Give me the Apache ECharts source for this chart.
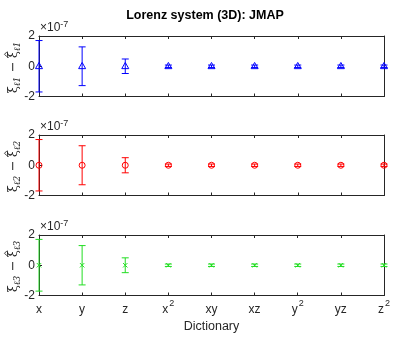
<!DOCTYPE html>
<html><head><meta charset="utf-8">
<script src="https://cdn.jsdelivr.net/npm/echarts@6/dist/echarts.min.js"></script>
<style>html,body{margin:0;padding:0;background:#fff}#c{width:393px;height:338px}</style>
</head><body><div id="c"></div>
<script>
const categories = ['x', 'y', 'z', 'x^2', 'xy', 'xz', 'y^2', 'yz', 'z^2'];
const yTicks = [-2, 0, 2];
const val1 = [0, 0, 0, 0, 0, 0, 0, 0, 0];
const err1 = [1.7, 1.28, 0.48, 0.08, 0.08, 0.08, 0.08, 0.08, 0.08];
const val2 = [0, 0, 0, 0, 0, 0, 0, 0, 0];
const err2 = [1.7, 1.29, 0.5, 0.08, 0.08, 0.08, 0.08, 0.08, 0.08];
const val3 = [0, 0, 0, 0, 0, 0, 0, 0, 0];
const err3 = [1.71, 1.3, 0.49, 0.08, 0.08, 0.08, 0.08, 0.08, 0.08];

const FONT = 'Liberation Sans, Arial, sans-serif';
const SERIF = 'DejaVu Serif, serif';
const AX = '#262626';
const panels = [
  {vals: val1, errs: err1, color: '#0000ff', marker: 'triangle', idx: '1', top: 36},
  {vals: val2, errs: err2, color: '#ff0000', marker: 'circle', idx: '2', top: 135},
  {vals: val3, errs: err3, color: '#22dd22', marker: 'x', idx: '3', top: 235}
];
const H = 60.5, LEFT = 39, RIGHT = 9;

function supFmt(v) {
  const m = /^(.*)\^(.*)$/.exec(v);
  if (m) return '{b|' + m[1] + '}{sup|' + m[2] + '}';
  return '{b|' + v + '}';
}

function yLabel(idx, cy) {
  const t = (txt, x, y, size, italic) => ({
    type: 'text', x: x, y: y,
    style: {text: txt, fontSize: size, fontFamily: SERIF, fontStyle: italic ? 'italic' : 'normal',
      fill: AX, align: 'left', verticalAlign: 'middle'}
  });
  return {
    type: 'group', x: 14, y: cy, rotation: Math.PI / 2,
    children: [
      t('ξ', -27, 0, 13, false),
      t('ℓ' + idx, -20, 4, 9, true),
      t('−', -6, 0, 13, false),
      t('ξ', 8, 0, 13, false),
      {type: 'polyline', shape: {points: [[9.5, -7], [12, -9.5], [14.5, -7]]}, style: {stroke: AX, lineWidth: 0.9, fill: null}},
      t('ℓ' + idx, 15, 4, 9, true)
    ]
  };
}

const grid = [], xAxis = [], yAxis = [], series = [], graphic = [];
panels.forEach((p, k) => {
  grid.push({left: LEFT, right: RIGHT, top: p.top, height: H});
  const last = k === panels.length - 1;
  xAxis.push({
    type: 'category', gridIndex: k, data: categories, boundaryGap: false, position: 'bottom',
    axisLine: {onZero: false, lineStyle: {color: AX, width: 1}},
    axisTick: {inside: true, length: 3, interval: 0, lineStyle: {color: AX}},
    axisLabel: last ? {
      show: true, margin: 4, interval: 0, formatter: supFmt,
      rich: {
        b: {fontSize: 12, fontFamily: FONT, color: AX, verticalAlign: 'bottom', lineHeight: 16},
        sup: {fontSize: 9, fontFamily: FONT, color: AX, verticalAlign: 'top', lineHeight: 16, padding: [0, 0, 8, 1]}
      }
    } : {show: false},
    name: last ? 'Dictionary' : '', nameLocation: 'middle', nameGap: 25,
    nameTextStyle: {fontSize: 12.5, fontFamily: FONT, color: AX}
  });
  xAxis.push({
    type: 'category', gridIndex: k, data: categories, boundaryGap: false, position: 'top',
    axisLine: {onZero: false, lineStyle: {color: AX, width: 1}},
    axisTick: {inside: true, length: 3, interval: 0, lineStyle: {color: AX}},
    axisLabel: {show: false}
  });
  yAxis.push({
    type: 'value', gridIndex: k, min: -2, max: 2, interval: 2, position: 'left',
    axisLine: {show: true, onZero: false, lineStyle: {color: AX, width: 1}},
    axisTick: {show: true, inside: true, length: 3, lineStyle: {color: AX}},
    splitLine: {show: false},
    axisLabel: {margin: 4, fontSize: 12, fontFamily: FONT, color: AX,
      formatter: v => yTicks.indexOf(v) >= 0 ? String(v) : ''}
  });
  yAxis.push({
    type: 'value', gridIndex: k, min: -2, max: 2, interval: 2, position: 'right',
    axisLine: {show: true, onZero: false, lineStyle: {color: AX, width: 1}},
    axisTick: {show: false},
    splitLine: {show: false}, axisLabel: {show: false}
  });
  const data = p.vals.map((v, i) => [i, v, p.errs[i]]);
  series.push({
    type: 'custom', xAxisIndex: 2 * k, yAxisIndex: 2 * k, clip: false, data: data, z: 5,
    renderItem: function (params, api) {
      const i = api.value(0), v = api.value(1), e = api.value(2);
      const c = api.coord([i, v]);
      const hi = api.coord([i, v + e]);
      const lo = api.coord([i, v - e]);
      const cw = 3.5;
      const st = {stroke: p.color, lineWidth: 1, fill: null};
      const ch = [
        {type: 'line', shape: {x1: c[0], y1: hi[1], x2: c[0], y2: lo[1]}, style: st},
        {type: 'line', shape: {x1: c[0] - cw, y1: hi[1], x2: c[0] + cw, y2: hi[1]}, style: st},
        {type: 'line', shape: {x1: c[0] - cw, y1: lo[1], x2: c[0] + cw, y2: lo[1]}, style: st}
      ];
      if (p.marker === 'triangle') {
        ch.push({type: 'polygon', shape: {points: [[c[0], c[1] - 3.8], [c[0] + 3.5, c[1] + 2.4], [c[0] - 3.5, c[1] + 2.4]]}, style: {stroke: p.color, lineWidth: 1, fill: 'none'}});
      } else if (p.marker === 'circle') {
        ch.push({type: 'circle', shape: {cx: c[0], cy: c[1], r: 3}, style: {stroke: p.color, lineWidth: 1, fill: 'none'}});
      } else {
        ch.push({type: 'line', shape: {x1: c[0] - 2.2, y1: c[1] - 2.2, x2: c[0] + 2.2, y2: c[1] + 2.2}, style: st});
        ch.push({type: 'line', shape: {x1: c[0] - 2.2, y1: c[1] + 2.2, x2: c[0] + 2.2, y2: c[1] - 2.2}, style: st});
      }
      return {type: 'group', children: ch};
    }
  });
  graphic.push({
    type: 'text', left: LEFT + 1, top: p.top - 16,
    style: {
      text: '{a|×10}{s|-7}',
      rich: {
        a: {fontSize: 12, fontFamily: FONT, fill: AX, verticalAlign: 'bottom', lineHeight: 14},
        s: {fontSize: 9, fontFamily: FONT, fill: AX, verticalAlign: 'top', lineHeight: 14, padding: [0, 0, 6, 0]}
      }
    }
  });
  graphic.push(yLabel(p.idx, p.top + H / 2));
});

const chart = echarts.init(document.getElementById('c'), null, {renderer: 'canvas'});
chart.setOption({
  animation: false,
  title: {text: 'Lorenz system (3D): JMAP', left: 200, top: 4, textAlign: 'center',
    textStyle: {fontSize: 12.5, fontWeight: 'bold', fontFamily: FONT, color: '#000'}},
  grid: grid, xAxis: xAxis, yAxis: yAxis, series: series, graphic: graphic
});
</script></body></html>
